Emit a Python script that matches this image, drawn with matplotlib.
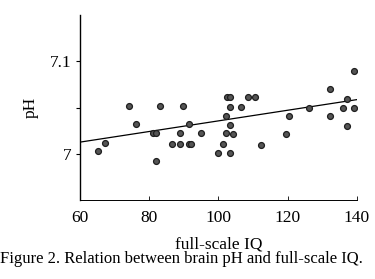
import matplotlib
matplotlib.use('Agg')
import matplotlib.pyplot as plt
import numpy as np

plt.rcParams['font.family'] = ['Liberation Serif', 'DejaVu Serif']

# full-scale IQ vs brain pH
iq = [65.1, 67.2, 74.2, 76.1, 81.1, 81.9, 82.0, 83.0, 86.6, 88.8, 88.8, 89.8,
      91.6, 91.6, 92.0, 94.9, 100.0, 101.3, 102.3, 102.3, 102.4, 103.4, 103.3,
      103.3, 103.2, 104.2, 106.6, 108.4, 110.5, 112.2, 119.4, 120.3, 126.2,
      132.2, 132.2, 136.1, 137.1, 137.1, 139.2, 139.2]
ph = [7.003, 7.012, 7.052, 7.032, 7.022, 7.022, 6.992, 7.052, 7.011, 7.011, 7.022, 7.052,
      7.032, 7.011, 7.011, 7.022, 7.001, 7.011, 7.041, 7.022, 7.061, 7.061, 7.051,
      7.031, 7.001, 7.021, 7.051, 7.061, 7.061, 7.010, 7.021, 7.041, 7.050,
      7.070, 7.041, 7.050, 7.059, 7.030, 7.050, 7.090]

# regression line (intercept at IQ 60, slope per IQ point)
fit_x = [60, 140]
fit_intercept = 7.0126
fit_slope = 0.000575

fig = plt.figure(figsize=(3.75, 2.79), dpi=100)
ax = fig.add_axes([0.213, 0.283, 0.739, 0.663])

ax.scatter(iq, ph, s=18, color='#555555', edgecolors='#1e1e1e', linewidths=0.9, zorder=3)
fx = np.array(fit_x)
ax.plot(fx, fit_intercept + fit_slope * (fx - 60), color='black', lw=0.9, zorder=2)

ax.set_xlim(60, 140)
ax.set_ylim(6.95, 7.15)
ax.set_xticks([60, 80, 100, 120, 140])
ax.set_yticks([7.0, 7.05, 7.1])
ax.set_yticklabels(['7', '', '7.1'])
ax.tick_params(axis='x', direction='in', length=3, width=0.6, labelsize=12.5, pad=7)
ax.tick_params(axis='y', direction='out', length=3, width=0.8, labelsize=12.5, pad=3)

ax.spines['top'].set_visible(False)
ax.spines['right'].set_visible(False)
ax.spines['left'].set_linewidth(1.0)
ax.spines['bottom'].set_linewidth(0.7)

ax.set_xlabel('full-scale IQ', fontsize=12.5, labelpad=8)
ax.set_ylabel('pH', fontsize=12.5, labelpad=8)

fig.text(0.483, 0.07, 'Figure 2. Relation between brain pH and full-scale IQ.',
         ha='center', va='center', fontsize=12)

plt.savefig('out.png', dpi=100)
